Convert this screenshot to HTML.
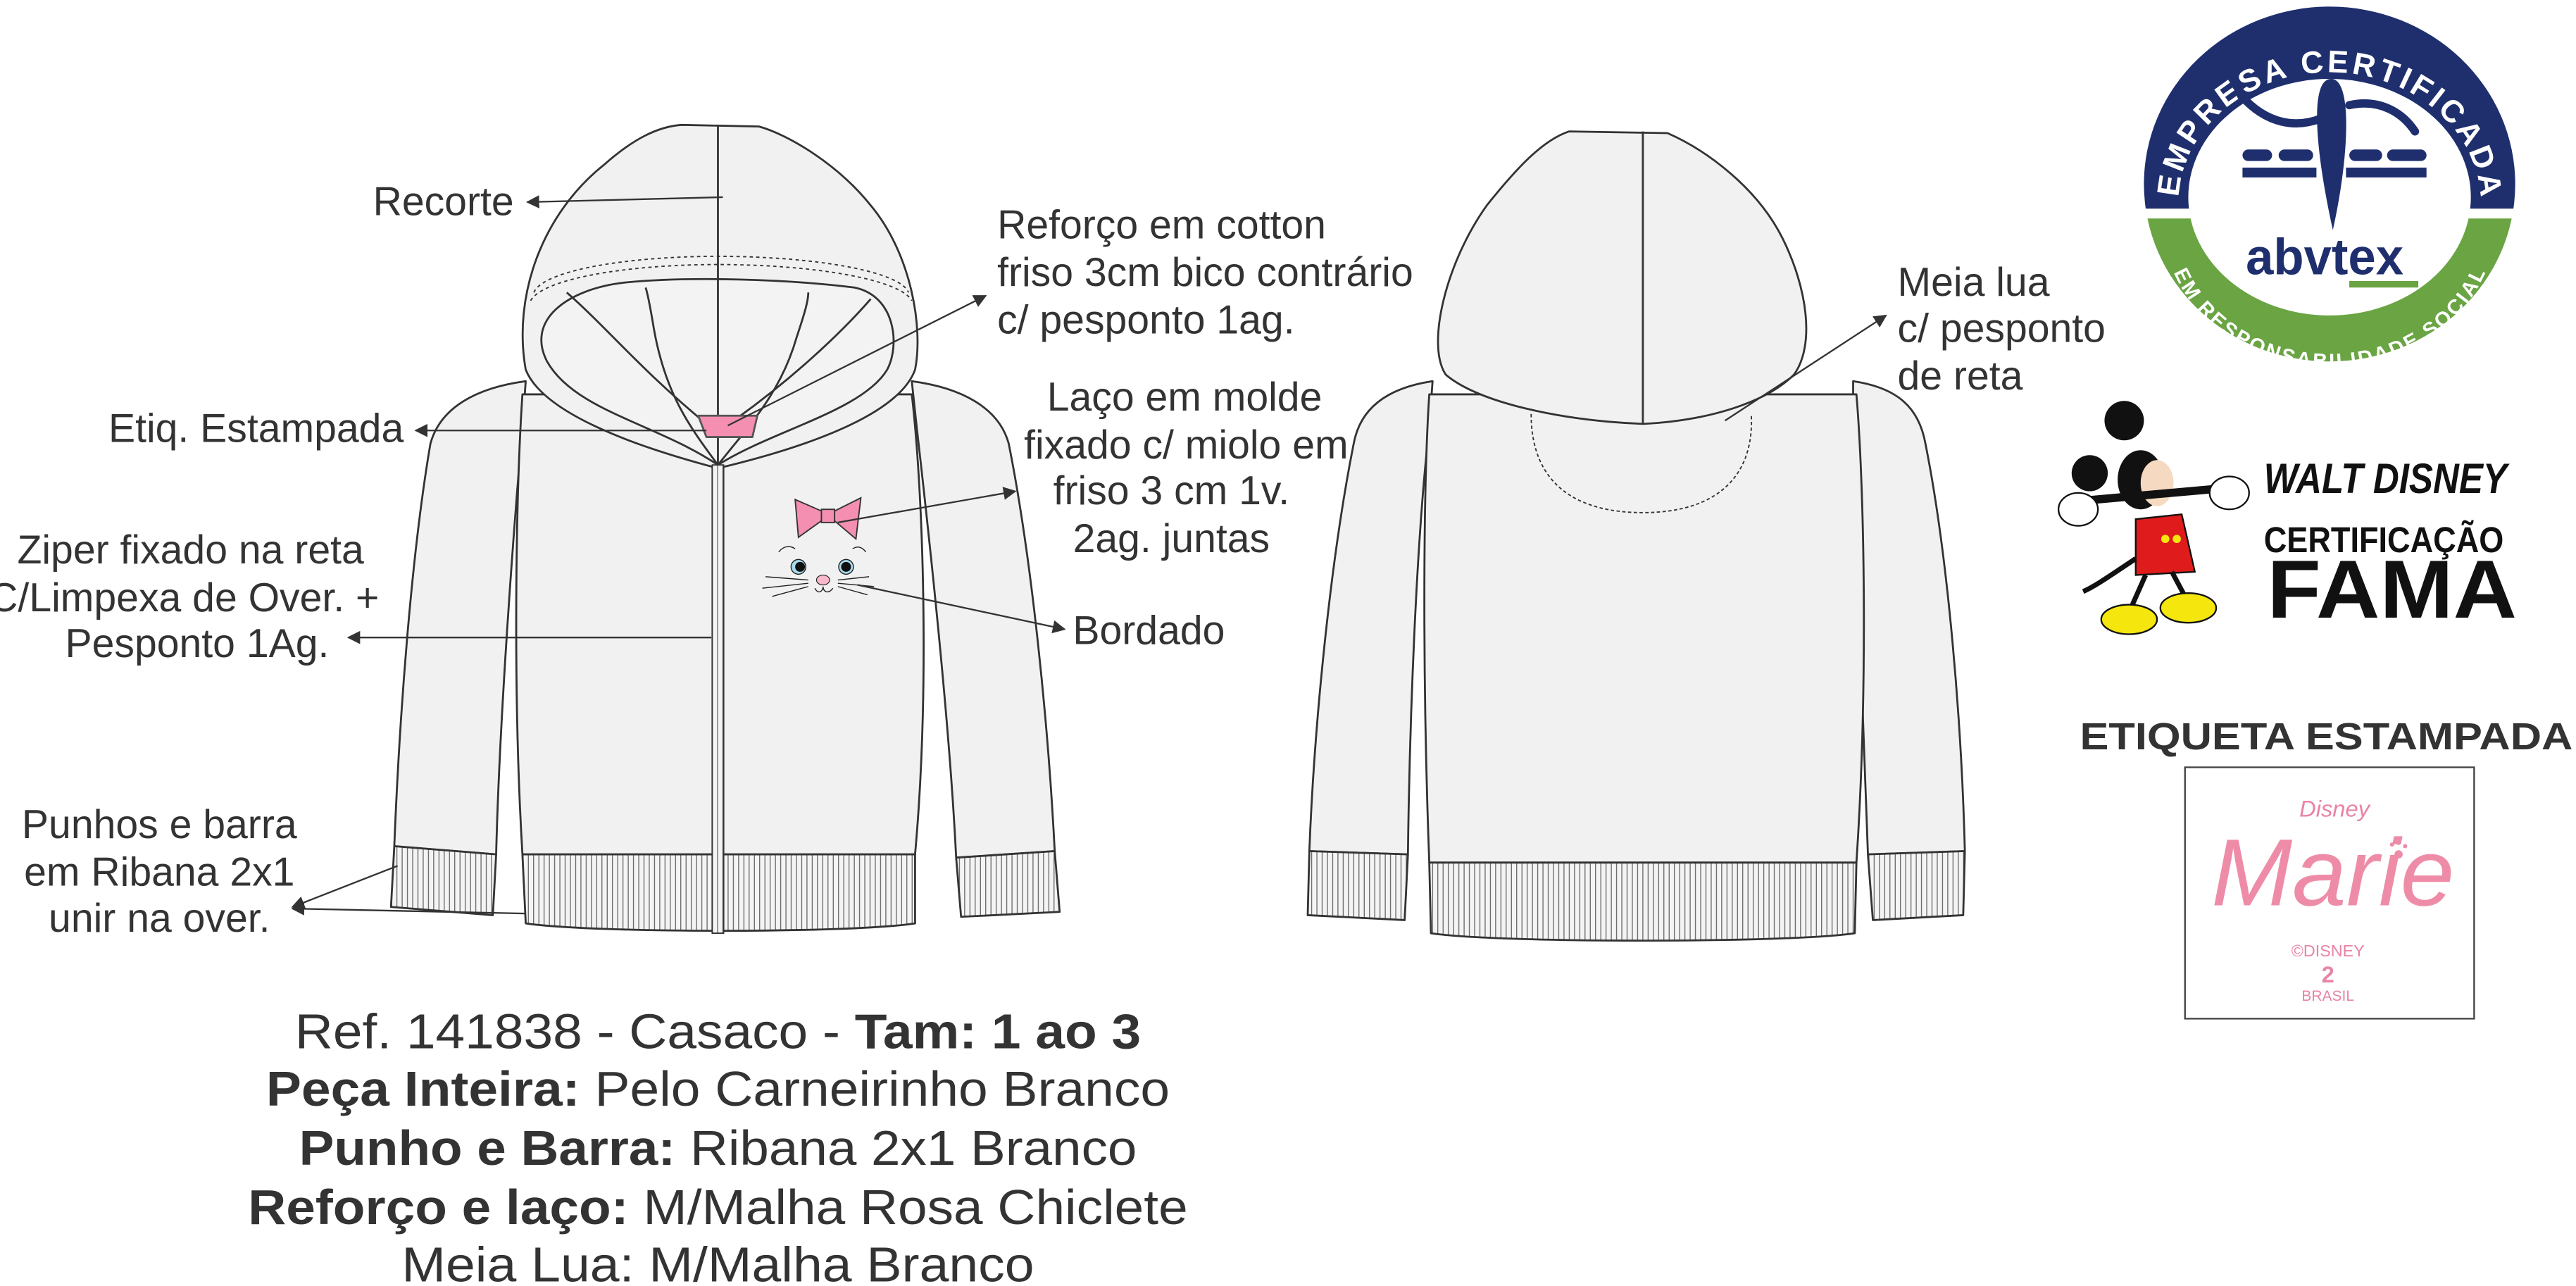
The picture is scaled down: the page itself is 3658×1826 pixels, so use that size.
<!DOCTYPE html>
<html><head><meta charset="utf-8"><style>
html,body{margin:0;padding:0;background:#fff;}
svg{display:block;}
text{font-family:"Liberation Sans",Arial,sans-serif;fill:#333;}
</style></head><body>
<svg width="3658" height="1826" viewBox="0 0 1568 782.7" xmlns="http://www.w3.org/2000/svg">
<defs>
<pattern id="rib" width="3.2" height="10" patternUnits="userSpaceOnUse">
<rect width="3.2" height="10" fill="#f4f4f4"/><line x1="1.6" y1="0" x2="1.6" y2="10" stroke="#555" stroke-width="0.5"/>
</pattern>
<marker id="ah" viewBox="0 0 10 10" refX="9" refY="5" markerWidth="8" markerHeight="8" orient="auto-start-reverse" markerUnits="userSpaceOnUse">
<path d="M0,0 L10,5 L0,10 z" fill="#333"/></marker>
<path id="arcTop" d="M1326,124 A92,80 0 1 1 1510,124"/>
<path id="arcBot" d="M1316,132 A102,92 0 0 0 1520,132"/>
<clipPath id="ctop"><rect x="1290" y="0" width="260" height="127"/></clipPath>
<clipPath id="cbot"><rect x="1290" y="133" width="260" height="120"/></clipPath>
</defs>
<g stroke="#333" stroke-width="1.2" fill="#f1f1f1" stroke-linejoin="round">
<path d="M320,232 C290,236 268,248 262,270 C250,340 243,440 240,515 L302,520 C304,440 312,330 318,260 Z"/>
<path d="M555,232 C585,236 608,248 614,270 C628,340 638,440 642,518 L582,522 C578,440 566,330 558,260 Z"/>
<path d="M318,240 L555,240 C562,300 566,420 557,520 L318,520 C312,420 314,300 318,240 Z"/>
<path d="M240,515 L302,520 L300,557 L238,552 Z" fill="url(#rib)"/>
<path d="M582,522 L642,518 L645,555 L585,558 Z" fill="url(#rib)"/>
<path d="M318,520 L557,520 L557,562 C520,568 360,568 320,562 Z" fill="url(#rib)"/>
<path d="M437,285 C380,270 330,250 320,225 C312,180 330,130 368,100 C385,85 400,77 415,76 L462,77 C480,82 510,100 530,125 C555,155 562,200 557,225 C548,250 500,270 437,285 Z"/>
<path d="M437,283 C400,258 350,250 333,220 C320,195 345,176 380,172 C420,168 480,170 520,175 C545,180 548,210 540,225 C525,250 470,262 437,283 Z" fill="#f3f3f3"/>
<path d="M437,283 C420,260 405,240 398,200 C396,188 394,178 393,175" fill="none"/>
<path d="M437,283 C455,260 475,240 485,205 C490,190 492,183 492,178" fill="none"/>
<path d="M345,178 C370,200 390,225 430,258" fill="none"/>
<path d="M530,182 C510,205 480,232 448,255" fill="none"/>
<path d="M437,77 L437,283" fill="none"/>
<path d="M425,253 L461,253 L458,266 L430,266 Z" fill="#f48fb1" stroke="#555"/>
<path d="M325,178 C330,165 380,156 437,156 C495,156 548,165 553,178" fill="none" stroke-dasharray="2,2" stroke-width="0.8"/>
<path d="M323,183 C330,170 380,161 437,161 C495,161 548,170 555,183" fill="none" stroke-dasharray="2,2" stroke-width="0.8"/>
<rect x="433.5" y="283" width="7" height="285" fill="url(#rib)" stroke-width="0.8"/>
<path d="M872,232 C845,236 828,248 824,270 C810,340 800,440 797,518 L857,520 C858,440 862,330 870,260 Z"/>
<path d="M1128,232 C1155,236 1168,248 1172,270 C1186,340 1194,440 1196,518 L1137,520 C1134,440 1130,330 1128,260 Z"/>
<path d="M870,240 L1130,240 C1135,300 1137,420 1130,525 L870,525 C866,420 866,300 870,240 Z"/>
<path d="M797,518 L857,520 L855,560 L796,557 Z" fill="url(#rib)"/>
<path d="M1137,520 L1196,518 L1195,557 L1140,560 Z" fill="url(#rib)"/>
<path d="M870,525 L1130,525 L1129,568 C1090,574 910,574 871,568 Z" fill="url(#rib)"/>
<path d="M1000,258 C950,256 900,245 880,228 C868,210 880,160 905,125 C925,100 940,85 955,80 L1015,81 C1040,92 1070,115 1085,145 C1100,175 1105,210 1092,228 C1075,245 1040,256 1000,258 Z"/>
<path d="M1000,80 L1000,258" fill="none"/>
<path d="M932,252 C932,295 960,312 1000,312 C1045,312 1068,290 1066,252" fill="none" stroke-dasharray="2,1.5" stroke-width="0.8"/>
</g>
<g transform="translate(484,300)">
<path d="M0,4 L16,11 L16,17 L2,27 Z M40,3 L24,11 L24,17 L37,28 Z" fill="#f48fb1" stroke="#333" stroke-width="0.8"/>
<rect x="16" y="10" width="8" height="8" fill="#f48fb1" stroke="#333" stroke-width="0.8"/>
<circle cx="2" cy="45" r="4.5" fill="#a9dbee" stroke="#222" stroke-width="0.6"/><circle cx="3" cy="45" r="3" fill="#111"/>
<circle cx="31" cy="45" r="4.5" fill="#a9dbee" stroke="#222" stroke-width="0.6"/><circle cx="31" cy="45" r="3" fill="#111"/>
<ellipse cx="17" cy="53" rx="4" ry="3" fill="#f7b8cc" stroke="#222" stroke-width="0.5"/>
<path d="M12,58 C14,62 17,60 17,57 C17,60 20,62 23,58 M-18,51 L8,53 M-20,58 L8,55 M-14,63 L8,57 M45,51 L26,53 M48,57 L26,55 M44,62 L26,57 M-10,36 C-7,32 -3,32 0,34 M35,34 C38,32 41,33 43,36" stroke="#222" stroke-width="0.6" fill="none"/>
</g>
<g stroke="#333" stroke-width="1" fill="none">
<line x1="440" y1="120" x2="321" y2="123" marker-end="url(#ah)"/>
<line x1="443" y1="259" x2="600" y2="180" marker-end="url(#ah)"/>
<line x1="430" y1="262" x2="253" y2="262" marker-end="url(#ah)"/>
<line x1="510" y1="318" x2="618" y2="299" marker-end="url(#ah)"/>
<line x1="522" y1="356" x2="648" y2="383" marker-end="url(#ah)"/>
<line x1="433" y1="388" x2="212" y2="388" marker-end="url(#ah)"/>
<line x1="242" y1="527" x2="178" y2="552" marker-end="url(#ah)"/>
<line x1="320" y1="556" x2="178" y2="553" marker-end="url(#ah)"/>
<line x1="1050" y1="256" x2="1148" y2="192" marker-end="url(#ah)"/>
</g>
<g font-size="24.5">
<text x="227" y="131">Recorte</text>
<text x="607" y="145">Reforço em cotton</text>
<text x="607" y="174">friso 3cm bico contrário</text>
<text x="607" y="203">c/ pesponto 1ag.</text>
<text x="66" y="269">Etiq. Estampada</text>
<g text-anchor="middle">
<text x="721" y="250">Laço em molde</text>
<text x="722" y="279">fixado c/ miolo em</text>
<text x="713" y="307">friso 3 cm 1v.</text>
<text x="713" y="336">2ag. juntas</text>
<text x="116" y="343">Ziper fixado na reta</text>
<text x="112" y="372">C/Limpexa de Over. +</text>
<text x="120" y="400">Pesponto 1Ag.</text>
<text x="97" y="510">Punhos e barra</text>
<text x="97" y="539">em Ribana 2x1</text>
<text x="97" y="567">unir na over.</text>
</g>
<text x="653" y="392">Bordado</text>
<text x="1155" y="180">Meia lua</text>
<text x="1155" y="208">c/ pesponto</text>
<text x="1155" y="237">de reta</text>
</g>
<g font-size="30" text-anchor="middle">
<text x="437" y="638" textLength="515" lengthAdjust="spacingAndGlyphs">Ref. 141838 - Casaco - <tspan font-weight="bold">Tam: 1 ao 3</tspan></text>
<text x="437" y="673" textLength="550" lengthAdjust="spacingAndGlyphs"><tspan font-weight="bold">Peça Inteira:</tspan> Pelo Carneirinho Branco</text>
<text x="437" y="709" textLength="510" lengthAdjust="spacingAndGlyphs"><tspan font-weight="bold">Punho e Barra:</tspan> Ribana 2x1 Branco</text>
<text x="437" y="745" textLength="572" lengthAdjust="spacingAndGlyphs"><tspan font-weight="bold">Reforço e laço:</tspan> M/Malha Rosa Chiclete</text>
<text x="437" y="780" textLength="385" lengthAdjust="spacingAndGlyphs">Meia Lua: M/Malha Branco</text>
</g>
<g>
<path fill-rule="evenodd" clip-path="url(#ctop)" fill="#1f2f6e" d="M1305,112 A113,108 0 1 0 1531,112 A113,108 0 1 0 1305,112 Z M1332,120 A86,72 0 1 0 1504,120 A86,72 0 1 0 1332,120 Z"/>
<path fill-rule="evenodd" clip-path="url(#cbot)" fill="#6aa443" d="M1305,112 A113,108 0 1 0 1531,112 A113,108 0 1 0 1305,112 Z M1332,120 A86,72 0 1 0 1504,120 A86,72 0 1 0 1332,120 Z"/>
<text font-size="19" font-weight="bold" style="fill:#fff"><textPath href="#arcTop" startOffset="50%" text-anchor="middle" textLength="262" lengthAdjust="spacing">EMPRESA CERTIFICADA</textPath></text>
<text font-size="12.5" font-weight="bold" style="fill:#fff"><textPath href="#arcBot" startOffset="50%" text-anchor="middle" textLength="235" lengthAdjust="spacing">EM RESPONSABILIDADE SOCIAL</textPath></text>
<path d="M1364,58 C1380,76 1398,78 1413,72 M1430,64 C1448,60 1462,68 1470,80" stroke="#1f2f6e" stroke-width="5" fill="none" stroke-linecap="round"/>
<path d="M1419,48 C1432,48 1430,95 1420,140 C1410,95 1405,48 1419,48 Z" fill="#1f2f6e"/>
<rect x="1365" y="91" width="18" height="7" rx="3.5" fill="#1f2f6e"/><rect x="1387" y="91" width="21" height="7" rx="3.5" fill="#1f2f6e"/>
<rect x="1430" y="91" width="20" height="7" rx="3.5" fill="#1f2f6e"/><rect x="1453" y="91" width="24" height="7" rx="3.5" fill="#1f2f6e"/>
<rect x="1365" y="102" width="45" height="6" fill="#1f2f6e"/><rect x="1428" y="102" width="49" height="6" fill="#1f2f6e"/>
<text x="1367" y="167" font-size="31" font-weight="bold" style="fill:#1f2f6e" textLength="96" lengthAdjust="spacingAndGlyphs">abvtex</text>
<rect x="1430" y="171" width="42" height="4" fill="#6aa443"/>
</g>
<g>
<circle cx="1293" cy="256" r="12" fill="#111"/>
<circle cx="1272" cy="288" r="11" fill="#111"/>
<ellipse cx="1303" cy="292" rx="14" ry="18" fill="#111"/>
<ellipse cx="1313" cy="294" rx="10" ry="14" fill="#f5d9c0"/>
<path d="M1265,305 L1355,297" stroke="#111" stroke-width="5"/>
<ellipse cx="1265" cy="310" rx="12" ry="10" fill="#fff" stroke="#111"/>
<ellipse cx="1357" cy="300" rx="12" ry="10" fill="#fff" stroke="#111"/>
<path d="M1300,316 L1328,313 L1336,348 L1300,350 Z" fill="#e01b1b" stroke="#111"/>
<circle cx="1318" cy="328" r="2.5" fill="#f5e60e"/><circle cx="1325" cy="328" r="2.5" fill="#f5e60e"/>
<path d="M1306,350 L1298,368 M1322,348 L1330,363 M1300,340 C1285,350 1275,357 1268,360" stroke="#111" stroke-width="3" fill="none"/>
<ellipse cx="1296" cy="377" rx="17" ry="9" fill="#f5e60e" stroke="#111"/>
<ellipse cx="1332" cy="370" rx="17" ry="9" fill="#f5e60e" stroke="#111"/>
</g>
<text x="1378" y="300" font-size="26" font-family="'DejaVu Serif',serif" font-style="italic" font-weight="bold" style="fill:#111" textLength="148" lengthAdjust="spacingAndGlyphs">WALT DISNEY</text>
<text x="1378" y="336" font-size="22" font-weight="bold" style="fill:#111" textLength="146" lengthAdjust="spacingAndGlyphs">CERTIFICAÇÃO</text>
<text x="1380" y="376" font-size="50" font-weight="bold" style="fill:#111" textLength="152" lengthAdjust="spacingAndGlyphs">FAMA</text>
<text x="1266" y="456" font-size="23" font-weight="bold" textLength="300" lengthAdjust="spacingAndGlyphs">ETIQUETA ESTAMPADA</text>
<rect x="1330" y="467" width="176" height="153" fill="#fff" stroke="#444" stroke-width="1"/>
<g text-anchor="middle">
<text x="1421" y="497" font-size="14" font-family="'DejaVu Serif',serif" font-style="italic" style="fill:#e984a4">Disney</text>
<text x="1420" y="551" font-size="58" font-family="'DejaVu Serif',serif" font-style="italic" style="fill:#ee8ca8" textLength="148" lengthAdjust="spacingAndGlyphs">Marie</text>
<circle cx="1460" cy="520" r="2.5" fill="#ee8ca8"/><circle cx="1456" cy="514" r="1.3" fill="#ee8ca8"/><circle cx="1460" cy="513" r="1.3" fill="#ee8ca8"/><circle cx="1464" cy="515" r="1.3" fill="#ee8ca8"/>
<text x="1417" y="582" font-size="10" style="fill:#e984a4">©DISNEY</text>
<text x="1417" y="598" font-size="14" font-weight="bold" style="fill:#e984a4">2</text>
<text x="1417" y="609" font-size="9" style="fill:#e984a4">BRASIL</text>
</g>
</svg>
</body></html>
